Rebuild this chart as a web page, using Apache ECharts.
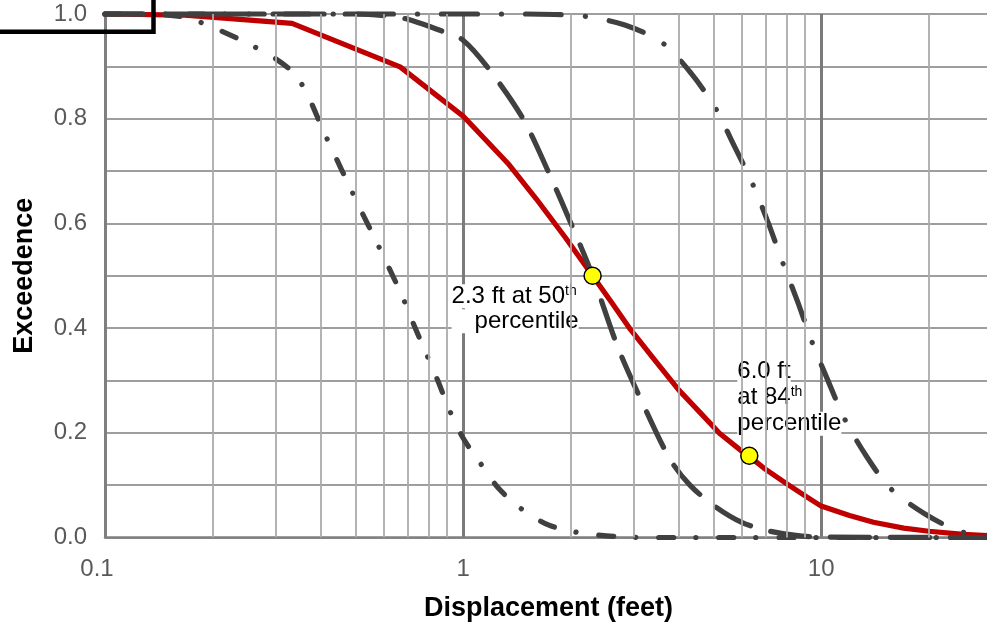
<!DOCTYPE html>
<html>
<head>
<meta charset="utf-8">
<script src="https://cdn.jsdelivr.net/npm/echarts@6/dist/echarts.min.js"></script>
<style>
html,body{margin:0;padding:0;background:#fff;}
#c{width:987px;height:631px;}
</style>
</head>
<body>
<div id="c"></div>
<script>
// ---- data ----
// red curve: median exceedance curve
const medianX = [0.1, 0.167, 0.333, 0.667, 1.0, 1.333, 1.6, 1.93, 2.3, 2.6, 2.93, 3.4, 4.0, 4.6, 5.2, 6.0, 6.3, 7.0, 8.0, 9.0, 10, 12, 14, 17, 20, 25, 30];
const medianY = [1.0, 0.998, 0.982, 0.899, 0.805, 0.715, 0.647, 0.573, 0.5, 0.449, 0.398, 0.342, 0.282, 0.238, 0.199, 0.165, 0.155, 0.13, 0.103, 0.08, 0.06, 0.042, 0.029, 0.018, 0.012, 0.006, 0.003];
// left dash-dot curve
const lowX = [0.1, 0.14, 0.169, 0.204, 0.245, 0.294, 0.339, 0.371, 0.404, 0.439, 0.48, 0.522, 0.571, 0.621, 0.676, 0.728, 0.787, 0.852, 0.915, 1.0, 1.12, 1.26, 1.46, 1.73, 2.08, 2.64, 3.5, 5, 10, 30];
const lowY = [1.0, 0.999, 0.993, 0.972, 0.947, 0.918, 0.885, 0.84, 0.782, 0.729, 0.673, 0.621, 0.567, 0.515, 0.461, 0.407, 0.353, 0.298, 0.244, 0.19, 0.141, 0.093, 0.054, 0.024, 0.01, 0.002, 0.0, 0.0, 0.0, 0.0];
// middle long-dash curve
const midX = [0.1, 0.5, 0.6, 0.7, 0.876, 1.0, 1.18, 1.47, 1.74, 2.03, 2.3, 2.7, 3.17, 3.78, 4.3, 5.04, 6.0, 7.1, 8.5, 10, 30];
const midY = [1.0, 1.0, 0.997, 0.99, 0.967, 0.95, 0.895, 0.8, 0.695, 0.59, 0.5, 0.365, 0.257, 0.15, 0.1, 0.06, 0.029, 0.013, 0.004, 0.001, 0.0];
// right dash-dot curve
const highX = [0.1, 1.5, 1.8, 2.17, 2.83, 3.6, 4.33, 5.06, 5.7, 6.43, 7.1, 7.8, 8.58, 9.4, 10.4, 11.6, 13.3, 15.6, 19.5, 24.6, 30];
const highY = [1.0, 1.0, 0.999, 0.996, 0.979, 0.945, 0.887, 0.821, 0.75, 0.676, 0.603, 0.526, 0.452, 0.376, 0.303, 0.228, 0.158, 0.094, 0.045, 0.011, 0.004];
// yellow markers
const markerX = [2.3, 6.3];
const markerY = [0.5, 0.156];
const markerText = [
  '{a|2.3 ft at 50}{s|th}\n{b|percentile}',
  '{a|6.0 ft}\n{a|at 84}{s|th}\n{a|percentile}'
];
// minor log grid lines
const minorGridX = [0.2, 0.3, 0.4, 0.5, 0.6, 0.7, 0.8, 0.9, 2, 3, 4, 5, 6, 7, 8, 9, 20];
const xTickLabels = {0.1: '0.1', 1: '1', 10: '10'};

const FONT = "'Liberation Sans', Arial, sans-serif";
const zip = (xs, ys) => xs.map((x, i) => [x, ys[i]]);

const chart = echarts.init(document.getElementById('c'), null, {renderer: 'canvas'});

const darkLine = (dash, width) => ({color: '#404040', width: width, type: dash, cap: 'round', join: 'round'});

chart.setOption({
  animation: false,
  backgroundColor: '#fff',
  grid: {left: 105, right: -5, top: 14, bottom: 93.5, containLabel: false, outerBoundsMode: 'none'},
  xAxis: {
    type: 'log', logBase: 10, min: 0.1, max: 30,
    axisLine: {show: true, onZero: false, lineStyle: {color: '#808080', width: 2.5}},
    axisTick: {show: false},
    splitLine: {show: true, lineStyle: {color: '#7a7a7a', width: 3}},
    axisLabel: {
      color: '#595959', fontSize: 24, fontFamily: FONT, margin: 20,
      showMaxLabel: false,
      formatter: v => {
        const key = Math.abs(v - 0.1) < 1e-9 ? 0.1 : Math.round(v);
        if (xTickLabels[key] === undefined) return '';
        const t = xTickLabels[key];
        return key === 0.1 ? '{f|' + t + '}' : t;
      },
      rich: {f: {color: '#595959', fontSize: 24, fontFamily: FONT, padding: [0, 16, 0, 0]}}
    },
    name: 'Displacement (feet)', nameLocation: 'middle', nameGap: 58,
    nameTextStyle: {color: '#000', fontSize: 27, fontWeight: 'bold', fontFamily: FONT}
  },
  yAxis: {
    type: 'value', min: 0, max: 1, interval: 0.1,
    axisLine: {show: true, lineStyle: {color: '#808080', width: 2.5}},
    axisTick: {show: false},
    splitLine: {show: true, lineStyle: {color: '#9e9e9e', width: 2}},
    axisLabel: {
      color: '#595959', fontSize: 24, fontFamily: FONT, margin: 18,
      formatter: v => (Math.round(v * 10) % 2 === 0 ? v.toFixed(1) : '')
    },
    name: 'Exceedence', nameLocation: 'middle', nameGap: 67,
    nameTextStyle: {color: '#000', fontSize: 27, fontWeight: 'bold', fontFamily: FONT}
  },
  series: [
    {
      type: 'line', data: [], z: 0, silent: true,
      markLine: {
        silent: true, symbol: ['none', 'none'], animation: false,
        label: {show: false},
        lineStyle: {color: '#ababab', width: 1.8, type: 'solid'},
        emphasis: {disabled: true},
        data: minorGridX.map(v => ({xAxis: v}))
      }
    },
    {
      type: 'line', name: 'median', data: zip(medianX, medianY), z: 2, clip: false,
      showSymbol: false, symbol: 'none',
      lineStyle: {color: '#C00000', width: 5.2, join: 'round', cap: 'round'}
    },
    {
      type: 'line', name: 'mid', data: zip(midX, midY), z: 3, clip: false,
      showSymbol: false, symbol: 'none', smooth: 0.3,
      lineStyle: darkLine([39, 21], 5.2)
    },
    {
      type: 'line', name: 'low', data: zip(lowX, lowY), z: 3, clip: false,
      showSymbol: false, symbol: 'none', smooth: 0.3,
      lineStyle: darkLine([15, 22, 0.1, 23], 5.2)
    },
    {
      type: 'line', name: 'high', data: zip(highX, highY), z: 3, clip: false,
      showSymbol: false, symbol: 'none', smooth: 0.3,
      lineStyle: darkLine([36, 24, 0.1, 24], 5.2)
    },
    {
      type: 'scatter', name: 'markers', data: zip(markerX, markerY), z: 6,
      symbol: 'circle', symbolSize: 17,
      itemStyle: {color: '#FFFF00', borderColor: '#000', borderWidth: 1.5, opacity: 1}
    }
  ]
});

// annotations anchored on the marker positions
const p1 = chart.convertToPixel({gridIndex: 0}, [markerX[0], markerY[0]]);
const p2 = chart.convertToPixel({gridIndex: 0}, [markerX[1], markerY[1]]);
const richA = (lh) => ({
  a: {fontSize: 24, fontFamily: FONT, color: '#000', lineHeight: lh, backgroundColor: '#fff'},
  b: {fontSize: 24, fontFamily: FONT, color: '#000', lineHeight: lh, padding: [0, 0, 0, 23], backgroundColor: '#fff'},
  s: {fontSize: 14, fontFamily: FONT, color: '#000', lineHeight: 10, verticalAlign: 'top', backgroundColor: '#fff'}
});
chart.setOption({
  graphic: [
    {
      type: 'text', z: 1, silent: true,
      style: {
        x: p1[0] - 141, y: p1[1] + 8,
        text: markerText[0], rich: richA(25),
        align: 'left', verticalAlign: 'top'
      }
    },
    {
      type: 'text', z: 1, silent: true,
      style: {
        x: p2[0] - 12, y: p2[1] - 97,
        text: markerText[1], rich: richA(26),
        align: 'left', verticalAlign: 'top'
      }
    },
    {
      type: 'polyline', z: 100, silent: true,
      shape: {points: [[-5, 31.7], [153.5, 31.7], [153.5, -5]]},
      style: {stroke: '#000', lineWidth: 4.5, fill: null}
    }
  ]
});
</script>
</body>
</html>
